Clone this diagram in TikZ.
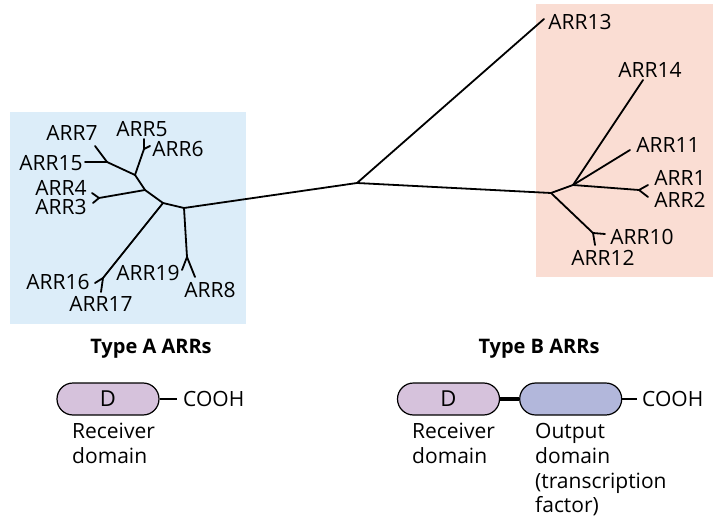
\documentclass[tikz,border=0pt]{standalone}
\usepackage{fontspec}
\setmainfont{Open Sans}
\usetikzlibrary{positioning}
\definecolor{typeAbg}{HTML}{DCEDF9}
\definecolor{typeBbg}{HTML}{FADDD3}
\definecolor{recvfill}{HTML}{D6C2DC}
\definecolor{outfill}{HTML}{B2B7DB}

\begin{document}
\begin{tikzpicture}[x=1pt,y=-1pt, node distance=19pt]
	\tikzstyle{branch}=[line width=1.8pt, line cap=round]
	\tikzstyle{arr}=[font=\fontsize{21}{24}\selectfont, inner sep=0pt]
	\tikzstyle{desc}=[font=\fontsize{21}{24.8}\selectfont, inner sep=0pt, align=left, anchor=north west]
	\tikzstyle{head}=[font=\bfseries\fontsize{20}{22}\selectfont, inner sep=0pt]
	\tikzstyle{pill}=[draw, line width=1.2pt, rounded corners=16pt, minimum width=102pt, minimum height=32pt, font=\fontsize{22}{24}\selectfont]
	\useasboundingbox (0,0) rectangle (714,521);

	% shaded groups
	\fill[typeAbg] (10,112) rectangle (246,324);
	\fill[typeBbg] (536,4) rectangle (713,277);

	% tree junctions and leaf ends
	\coordinate (c) at (357,183);
	\coordinate (e13) at (544,19);
	\coordinate (l1) at (184,208);
	\coordinate (l2) at (163,203);
	\coordinate (l3) at (187,257);
	\coordinate (e19) at (182,270);
	\coordinate (e8) at (195,277);
	\coordinate (l4) at (145,190);
	\coordinate (l5) at (103,278);
	\coordinate (e16) at (95,283);
	\coordinate (e17) at (101,292);
	\coordinate (l6) at (135,175);
	\coordinate (l7) at (99,198);
	\coordinate (e4) at (92,193);
	\coordinate (e3) at (93,203);
	\coordinate (l8) at (107,162);
	\coordinate (e15) at (85,162);
	\coordinate (e7) at (95,146);
	\coordinate (l9) at (144,149);
	\coordinate (e5) at (144,139);
	\coordinate (e6) at (150,146);

	\coordinate (r1) at (551,193);
	\coordinate (r2) at (573,185);
	\coordinate (r3) at (593,233);
	\coordinate (e10) at (605,234);
	\coordinate (e12) at (595,245);
	\coordinate (e14) at (643,80);
	\coordinate (e11) at (630,150);
	\coordinate (r4) at (639,190);
	\coordinate (e1) at (648,185);
	\coordinate (e2) at (648,197);

	% leaf labels
	\node[arr] (t7) at (72,133) {ARR7};
	\node[arr] (t5) at (142,129) {ARR5};
	\node[arr] (t6) at (178,149) {ARR6};
	\node[arr] (t15) at (51,163) {ARR15};
	\node[arr] (t4) at (61,188) {ARR4};
	\node[arr] (t3) at (61,207) {ARR3};
	\node[arr] (t16) at (58,282) {ARR16};
	\node[arr] (t17) at (101,304) {ARR17};
	\node[arr] (t19) at (148,273) {ARR19};
	\node[arr] (t8) at (210,290) {ARR8};

	\node[arr] (t13) at (580,22) {ARR13};
	\node[arr] (t14) at (650,70) {ARR14};
	\node[arr] (t11) at (668,145) {ARR11};
	\node[arr] (t1) at (680,178) {ARR1};
	\node[arr] (t2) at (680,200) {ARR2};
	\node[arr] (t10) at (642,237) {ARR10};
	\node[arr] (t12) at (603,258) {ARR12};

	\path[branch]
		(c) edge (e13)
		(c) edge (l1)
		(c) edge (r1)

		(l1) edge (l2)
		(l1) edge (l3)
		(l3) edge (e19)
		(l3) edge (e8)
		(l2) edge (l4)
		(l2) edge (l5)
		(l5) edge (e16)
		(l5) edge (e17)
		(l4) edge (l6)
		(l4) edge (l7)
		(l7) edge (e4)
		(l7) edge (e3)
		(l6) edge (l8)
		(l8) edge (e15)
		(l8) edge (e7)
		(l6) edge (l9)
		(l9) edge (e5)
		(l9) edge (e6)

		(r1) edge (r2)
		(r1) edge (r3)
		(r3) edge (e10)
		(r3) edge (e12)
		(r2) edge (e14)
		(r2) edge (e11)
		(r2) edge (r4)
		(r4) edge (e1)
		(r4) edge (e2);

	% domain structures
	\node[head] (ha) at (151,349) {Type A ARRs};
	\node[head] (hb) at (539,349) {Type B ARRs};

	\node[pill,fill=recvfill] (pa) at (108,399) {D};
	\node[arr,anchor=west] (ca) at (183,399) {COOH};
	\node[desc] (ra) at (72,423) {Receiver\\domain};

	\node[pill,fill=recvfill] (pb) at (448.5,399) {D};
	\node[pill,fill=outfill] (ob) [right=19pt of pb] {};
	\node[arr,anchor=west] (cb) at (642,399) {COOH};
	\node[desc] (rb) at (412,423) {Receiver\\domain};
	\node[desc] (db) at (535,423) {Output\\domain\\(transcription\\factor)};

	\draw[line width=1.2pt] (pa.east) -- ([xshift=-6pt]ca.west);
	\draw[line width=4pt] (pb.east) -- (ob.west);
	\draw[line width=1.2pt] (ob.east) -- ([xshift=-5pt]cb.west);
\end{tikzpicture}
\end{document}
